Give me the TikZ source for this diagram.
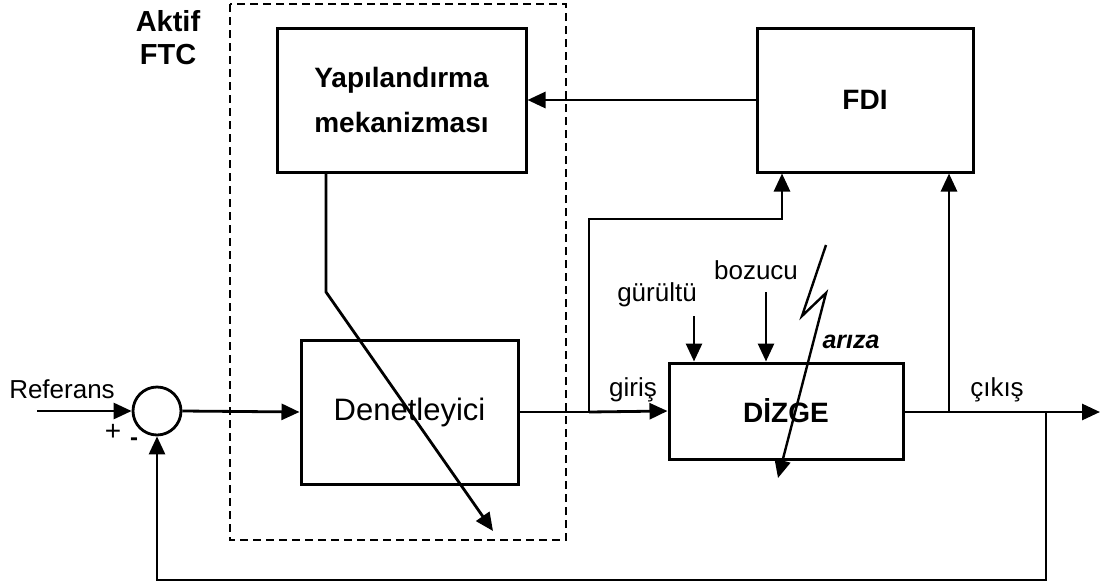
\documentclass[tikz,border=0pt]{standalone}
\usepackage{fontspec}
\setmainfont{Liberation Sans}
\usetikzlibrary{arrows.meta}
\begin{document}
\begin{tikzpicture}[x=1pt,y=-1pt,
  line width=2.8pt,
  >={Triangle[length=18pt,width=16pt]},
  block/.style={draw,rectangle,inner sep=0pt,line width=3pt},
  lbl/.style={font=\fontsize{26}{30}\selectfont,inner sep=0pt},
  bold/.style={font=\bfseries\fontsize{28}{34}\selectfont,inner sep=0pt}]
\useasboundingbox (0,0) rectangle (1100,584);

% active FTC frame
\draw[line width=1.8pt,dash pattern=on 8pt off 5pt] (230,4) rectangle (566,540);
\node[bold,align=center,font=\bfseries\fontsize{29}{33}\selectfont] (aktif) at (168,38) {Aktif\\FTC};

% blocks
\node[block,minimum width=249pt,minimum height=144pt,align=center,
      font=\bfseries\fontsize{28}{45}\selectfont] (yap) at (401.5,100) {Yapılandırma\\mekanizması};
\node[block,minimum width=216pt,minimum height=144pt,bold] (fdi) at (865,100) {FDI};
\node[block,minimum width=217pt,minimum height=144pt,font=\fontsize{31}{36}\selectfont] (den) at (409.5,412) {Denetleyici};
\node[block,minimum width=234pt,minimum height=96pt,bold] (dizge) at (786,411) {DİZGE};
\node[draw,circle,minimum size=48pt,inner sep=0pt] (sum) at (157,411) {};

% reference input
\coordinate (ref) at (37,411);
\draw[->] (ref) -- (sum.west);
\node[lbl] (referans) at (62,389) {Referans};
\node[font=\fontsize{28}{30}\selectfont\rmfamily,inner sep=0pt] (plus) at (113,432) {+};
\node[lbl,font=\bfseries\fontsize{24}{28}\selectfont] (minus) at (134,442) {-};

% forward path
\draw[->] (sum.east) -- (den.west);
\coordinate (br) at (589,412);
\draw (den.east) -- (br);
\draw[->] (br) -- (dizge.west);
\node[lbl] (giris) at (633,390) {giriş};

% input to FDI
\coordinate (fa) at (782,219);
\draw[->] (br) |- (fa) -- (fa |- fdi.south);

% FDI to reconfiguration
\draw[->] (fdi.west) -- (yap.east);

% reconfiguration acting on controller
\coordinate (yb) at (326,292);
\coordinate (yt) at (493,531);
\draw[->] (yap.south -| yb) -- (yb) -- (yt);

% output
\coordinate (out) at (1100,412);
\coordinate (o1) at (949,412);
\coordinate (o2) at (1046,412);
\draw[->] (dizge.east |- out) -- (out);
\node[lbl] (cikis) at (997,390) {çıkış};
\draw[->] (o1) -- (o1 |- fdi.south);

% feedback
\coordinate (fb) at (157,580);
\draw[->] (o2) |- (fb) -- (sum.south);

% disturbances
\coordinate (g1) at (694,316);
\coordinate (b1) at (766,292);
\draw[->] (g1) -- (g1 |- dizge.north);
\draw[->] (b1) -- (b1 |- dizge.north);
\node[lbl] (gurultu) at (657,295) {gürültü};
\node[lbl] (bozucu) at (756,270) {bozucu};

% fault
\coordinate (f1) at (826,245);
\coordinate (f2) at (802,316);
\coordinate (f3) at (826,293);
\coordinate (f4) at (778,478);
\draw[->,line width=2.4pt] (f1) -- (f2) -- (f3) -- (f4);
\node[font=\bfseries\itshape\fontsize{25}{30}\selectfont,inner sep=0pt] (ariza) at (851,342) {arıza};
\end{tikzpicture}
\end{document}
